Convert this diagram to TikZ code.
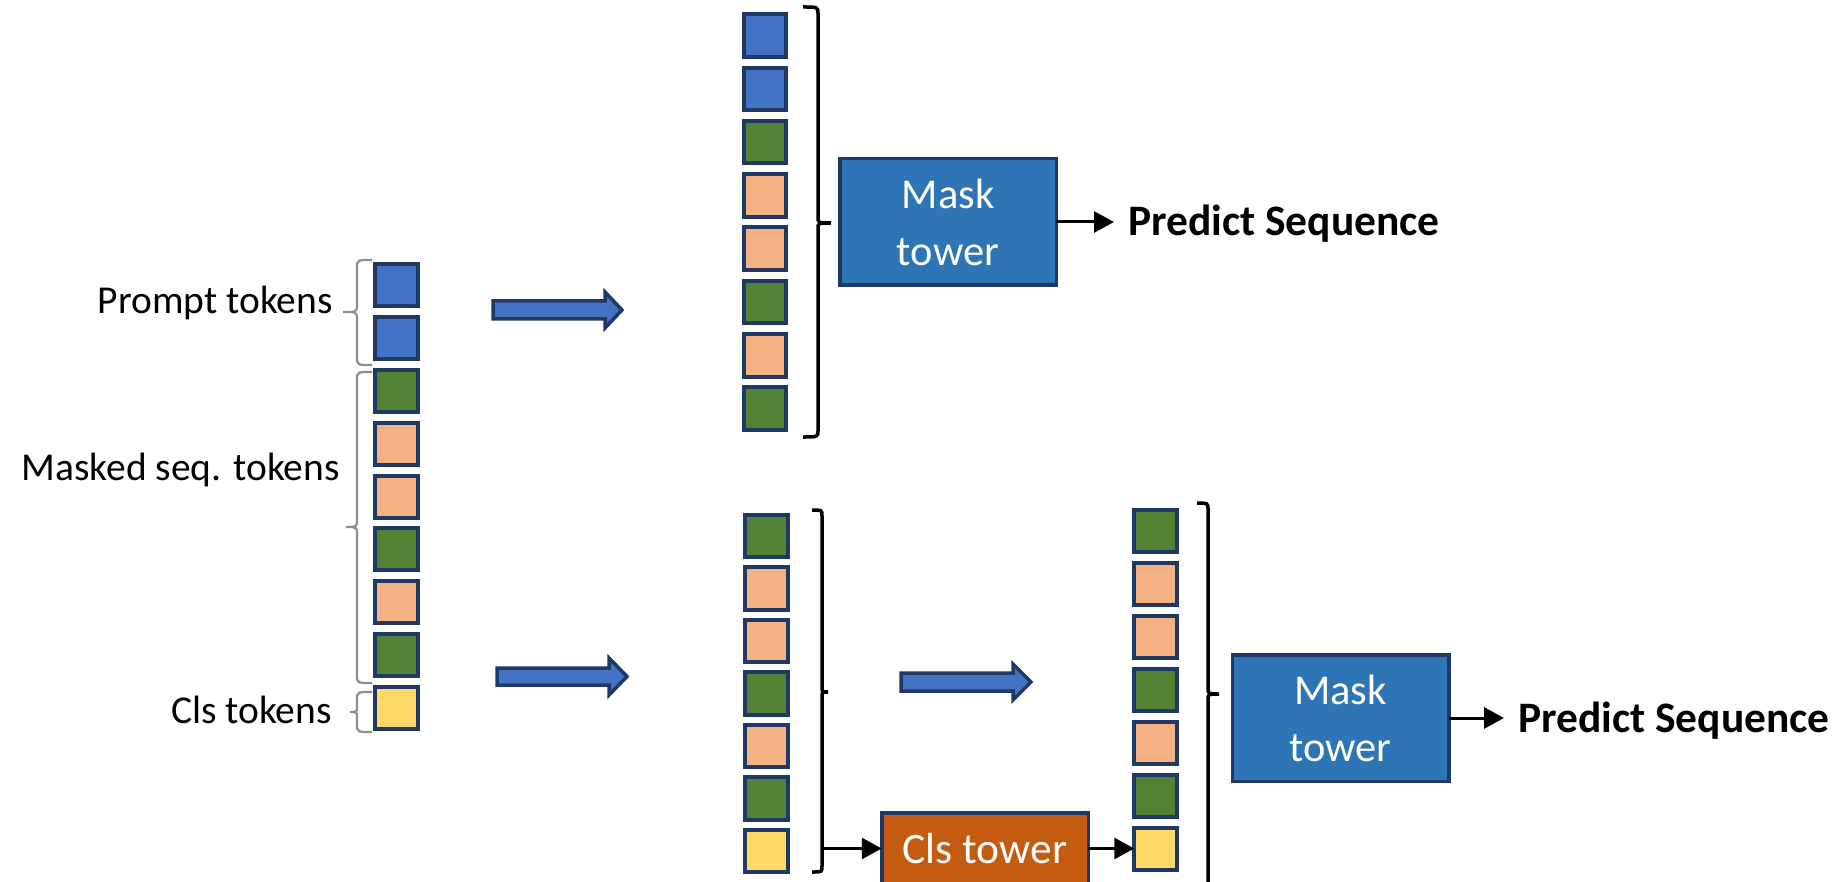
\documentclass[tikz,border=0pt]{standalone}
\usepackage{fontspec}
\setmainfont{Carlito}
\usetikzlibrary{arrows.meta}
\definecolor{tokblue}{HTML}{4472C4}
\definecolor{tokgreen}{HTML}{548235}
\definecolor{tokorange}{HTML}{F4B183}
\definecolor{tokyellow}{HTML}{FFD966}
\definecolor{navy}{HTML}{1F3864}
\definecolor{maskblue}{HTML}{2E75B6}
\definecolor{clsorange}{HTML}{C55A11}
\definecolor{bracegrey}{HTML}{8C8C8C}
\tikzset{
 tok/.style={draw=navy, line width=4pt, minimum size=42.5pt, inner sep=0pt, outer sep=0pt},
 B/.style={tok, fill=tokblue},
 G/.style={tok, fill=tokgreen},
 O/.style={tok, fill=tokorange},
 Y/.style={tok, fill=tokyellow},
 tower/.style={draw=navy, line width=3.5pt, text=white, align=center, inner sep=0pt, outer sep=0pt},
 masktower/.style={tower, fill=maskblue, minimum width=216.5pt, minimum height=126.5pt, font=\fontsize{42.5}{57}\selectfont},
 clstower/.style={tower, fill=clsorange, minimum width=206.5pt, minimum height=71.5pt, font=\fontsize{43.5}{52}\selectfont},
 blockarrow/.style={draw=navy, fill=tokblue, line width=3.5pt, line join=miter},
 conn/.style={-{Triangle[length=20pt,width=21pt]}, line width=3pt, black},
 lab/.style={font=\fontsize{39.5}{47}\selectfont, inner sep=0pt},
 pred/.style={font=\bfseries\fontsize{43.5}{52}\selectfont, inner ysep=0pt, inner xsep=14pt},
 lbrace/.style={draw=bracegrey, line width=2.2pt},
 rbrace/.style={draw=black, line width=3.5pt},
}
\begin{document}
\begin{tikzpicture}[x=1pt, y=-1pt]
\useasboundingbox (0,0) rectangle (1843,882);
\clip (0,0) rectangle (1843,882);

% ---------- left input column ----------
\node[B] (L1) at (396.5,285) {};
\node[B] (L2) at (396.5,338) {};
\node[G] (L3) at (396.5,391) {};
\node[O] (L4) at (396.5,444) {};
\node[O] (L5) at (396.5,497) {};
\node[G] (L6) at (396.5,549) {};
\node[O] (L7) at (396.5,602) {};
\node[G] (L8) at (396.5,655) {};
\node[Y] (L9) at (396.5,708) {};

% left labels
\node[lab, anchor=base east] (lp) at (333,313) {Prompt tokens};
\node[lab, anchor=base east] (lm) at (340,480) {Masked seq. tokens};
\node[lab, anchor=base east] (lc) at (332,723) {Cls tokens};

% left braces (grey)
\draw[lbrace] (372,260) .. controls (357,260) .. (357,268) -- (357,304) .. controls (357,312) .. (343,312) .. controls (357,312) .. (357,320) -- (357,357) .. controls (357,365) .. (372,365);
\draw[lbrace] (372,372) .. controls (357,372) .. (357,380) -- (357,519) .. controls (357,527) .. (346,527) .. controls (357,527) .. (357,535) -- (357,675) .. controls (357,683) .. (372,683);
\draw[lbrace] (372,692) .. controls (357,692) .. (357,700) -- (357,706) .. controls (357,712) .. (350,712) .. controls (357,712) .. (357,718) -- (357,724) .. controls (357,732) .. (372,732);

% block arrows from input
\draw[blockarrow] (493,301) -- (605,301) -- (605,292) -- (622,310) -- (605,328) -- (605,319) -- (493,319) -- cycle;
\draw[blockarrow] (497,668) -- (609,668) -- (609,658) -- (627,676.5) -- (609,695) -- (609,685) -- (497,685) -- cycle;

% ---------- top branch ----------
\node[B] (T1) at (765,35.5) {};
\node[B] (T2) at (765,88.8) {};
\node[G] (T3) at (765,142.1) {};
\node[O] (T4) at (765,195.4) {};
\node[O] (T5) at (765,248.7) {};
\node[G] (T6) at (765,302) {};
\node[O] (T7) at (765,355.3) {};
\node[G] (T8) at (765,408.6) {};

\draw[rbrace] (803,7) .. controls (818,7) .. (818,14) -- (818,217) .. controls (818,223) .. (831,223) .. controls (818,223) .. (818,229) -- (818,430) .. controls (818,437) .. (803,437);

\node[masktower] (mt1) at (948,222) {Mask\\tower};
\node[pred, anchor=base west] (p1) at (1114,236) {Predict Sequence};
\draw[conn] (mt1.east) -- (mt1.east -| p1.west);

% ---------- bottom branch ----------
\node[G] (M1) at (766.5,536) {};
\node[O] (M2) at (766.5,588.5) {};
\node[O] (M3) at (766.5,641) {};
\node[G] (M4) at (766.5,693.5) {};
\node[O] (M5) at (766.5,746) {};
\node[G] (M6) at (766.5,798.5) {};
\node[Y] (M7) at (766.5,851) {};

\draw[rbrace] (812,510) .. controls (822,510) .. (822,516) -- (822,687) .. controls (822,692) .. (828,692) .. controls (822,692) .. (822,697) -- (822,866) .. controls (822,872) .. (812,872);
\coordinate (bsrc) at (822,848.5);

\draw[blockarrow] (901,673) -- (1013,673) -- (1013,664) -- (1031,682) -- (1013,700) -- (1013,691) -- (901,691) -- cycle;

\node[clstower] (ct) at (985,848.5) {Cls tower};
\draw[conn] (bsrc) -- (bsrc -| ct.west);

\node[G] (R1) at (1155.5,531) {};
\node[O] (R2) at (1155.5,584) {};
\node[O] (R3) at (1155.5,637) {};
\node[G] (R4) at (1155.5,690) {};
\node[O] (R5) at (1155.5,743) {};
\node[G] (R6) at (1155.5,796) {};
\node[Y] (R7) at (1155.5,849) {};
\draw[conn] (ct.east) -- (ct.east -| R7.west);

\draw[rbrace] (1197,503) .. controls (1208,503) .. (1208,510) -- (1208,688) .. controls (1208,694) .. (1219,694) .. controls (1208,694) .. (1208,700) -- (1208,880) .. controls (1208,888) .. (1197,888);

\node[masktower] (mt2) at (1340.5,718) {Mask\\tower};
\node[pred, anchor=base west] (p2) at (1504,732) {Predict Sequence};
\draw[conn] (mt2.east) -- (mt2.east -| p2.west);
\end{tikzpicture}
\end{document}
